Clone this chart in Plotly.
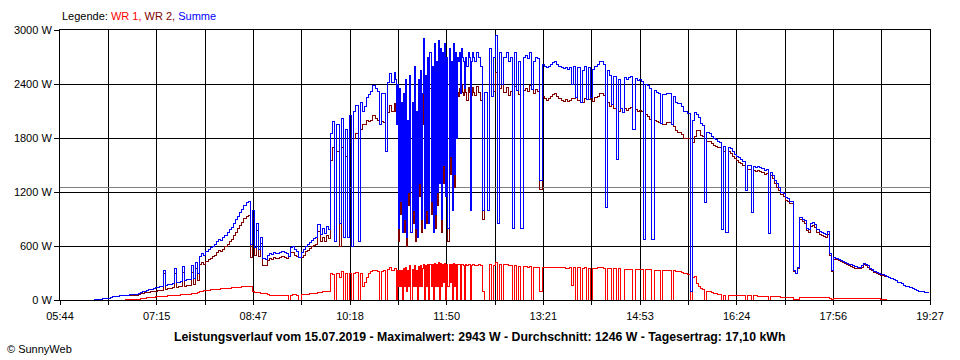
import plotly.graph_objects as go

# Sampling: 2-minute log, with the 1-minute detail log between 11:00 and 12:15
segments = [("06:16", "10:58", 2), ("11:00", "12:15", 1), ("12:16", "19:26", 2)]

wr1 = [
    # 06:16 - 10:58 (2 min)
    0,0,0,0,0,0,0,0,0,0,0,0,0,0,0,
    5,5,8,8,8,10,10,15,20,20,25,25,30,30,35,
    35,35,40,40,40,45,45,50,50,55,55,60,60,60,65,
    65,70,70,75,80,90,100,105,110,110,115,115,120,120,120,
    125,125,130,130,130,135,135,140,140,140,145,145,150,150,150,
    90,85,80,80,75,75,70,60,55,55,55,55,55,55,55,
    55,55,0,55,60,60,55,0,60,60,65,65,70,70,75,
    70,80,80,90,90,100,100,300,280,0,300,250,320,0,300,
    0,300,0,300,310,0,300,150,200,250,300,320,330,330,320,
    0,320,330,0,340,360,330,
    # 11:00 - 12:15 (1 min)
    350,350,0,330,150,330,150,330,0,350,150,360,100,330,150,
    380,0,340,150,380,150,330,0,370,150,380,150,350,400,0,
    380,150,400,0,400,150,390,0,410,150,400,150,420,0,410,
    150,400,200,410,0,400,150,400,200,390,0,410,150,400,0,
    390,390,400,0,400,390,380,0,390,380,390,390,0,380,390,
    390,
    # 12:16 - 19:26 (2 min)
    380,380,390,380,100,0,0,400,0,380,420,0,400,0,390,
    390,380,380,0,380,0,370,0,370,370,360,370,0,360,360,
    360,100,360,360,360,360,360,360,360,360,360,360,360,355,355,
    360,160,360,0,360,0,350,360,0,350,0,350,350,360,360,
    360,350,0,350,350,0,350,0,350,0,0,340,340,340,340,
    0,340,340,340,340,0,340,340,340,0,330,330,330,0,330,
    330,330,330,0,330,320,320,320,310,300,290,280,0,250,260,
    180,150,130,120,0,100,90,80,75,70,65,60,0,55,0,
    50,50,50,50,50,50,45,45,0,45,45,0,45,45,40,
    40,40,40,40,0,40,35,35,35,35,30,30,30,30,30,
    30,10,10,10,30,30,30,30,30,30,30,30,30,30,30,
    30,30,30,20,10,15,15,15,15,15,15,15,15,15,15,
    15,15,15,15,15,15,15,15,15,15,15,15,10,10,10,
    0,0,0,0,0,0,0,0,0,0,0,0,0,0,0,
    0,0,0,0,0,0,
]

wr2 = [
    # 06:16 - 10:58 (2 min)
    8,8,10,10,12,15,20,22,25,38,40,42,45,48,50,
    50,50,52,52,55,55,58,70,75,80,85,88,90,95,100,
    105,110,110,290,120,125,130,135,300,140,145,150,310,155,160,
    165,310,170,345,220,390,420,395,430,450,465,485,500,530,550,
    535,565,590,620,650,675,715,750,790,830,865,905,930,940,470,
    910,495,770,480,625,385,380,440,465,455,475,465,460,475,485,
    475,465,480,525,530,500,485,470,470,500,535,555,570,590,605,
    620,760,650,700,650,720,680,1550,1700,650,1650,600,1700,700,1600,
    700,1750,600,1800,1850,650,1900,1950,1950,2000,1980,2000,2050,2020,2000,
    1950,1980,1970,1650,2080,2160,2090,
    # 11:00 - 12:15 (1 min)
    2180,2100,1950,2070,650,2020,950,1870,750,1950,750,2090,600,1670,1050,
    2120,750,1860,850,2220,650,1770,700,2080,1150,2170,750,1950,2511,800,
    2120,850,2300,850,2350,950,2210,750,2440,800,2250,1050,2460,1300,2390,
    750,2350,1300,2440,1150,2300,650,2400,1400,2260,1000,2440,1250,2350,1800,
    2310,2260,2350,2300,2400,2310,2270,2350,2310,2220,2360,2310,1000,2270,2360,
    2310,
    # 12:16 - 19:26 (2 min)
    2270,2370,2310,2220,900,2310,1000,2400,2260,2320,2523,850,2350,2400,2310,
    2360,2270,2320,800,2370,2330,2280,800,2330,2350,2320,2380,2340,2290,2340,
    2320,1233,2260,2240,2220,2240,2260,2280,2290,2260,2240,2220,2210,2225,2205,
    2220,2240,2240,2250,2220,2200,2200,2240,2230,2230,2250,2210,2250,2260,2290,
    2290,2270,1030,2200,2150,2170,2130,1560,2100,2130,2080,2130,2110,2130,2140,
    1890,2120,2100,2110,2090,670,2060,2040,2010,670,2000,1980,1970,1960,1950,
    1950,1970,1970,1950,1930,1880,1860,1860,1840,1800,1800,1790,100,1750,1820,
    1880,1880,1830,1820,1080,1760,1760,1740,1720,1710,1700,1690,780,1650,750,
    1650,1630,1600,1570,1550,1530,1515,1495,1220,1455,1445,970,1435,1425,1440,
    1430,1420,1400,1410,740,1380,1345,1295,1255,1215,1170,1150,1110,1100,1070,
    1070,320,290,350,890,870,850,770,750,820,830,810,750,730,720,
    710,700,730,500,320,455,445,435,425,415,405,395,385,375,365,
    355,350,345,365,395,385,365,335,325,305,295,285,275,270,260,
    260,250,240,225,215,200,190,180,165,155,145,135,125,115,105,
    100,95,90,85,80,78,
]

# Summe = WR 1 + WR 2
summe = [a + b for a, b in zip(wr1, wr2)]

x_labels = ["05:44", "07:15", "08:47", "10:18", "11:50", "13:21", "14:53", "16:24", "17:56", "19:27"]
y_ticks = [0, 600, 1200, 1800, 2400, 3000]
y_labels = ["0 W", "600 W", "1200 W", "1800 W", "2400 W", "3000 W"]
average_w = 1246
title_text = "Leistungsverlauf vom 15.07.2019 - Maximalwert: 2943 W - Durchschnitt: 1246 W - Tagesertrag: 17,10 kWh"


def to_min(s):
    h, m = s.split(":")
    return int(h) * 60 + int(m)


times = []
for a, b, st in segments:
    times.extend(range(to_min(a), to_min(b) + 1, st))
times = times[:len(wr1)]

x_min = to_min(x_labels[0])
x_max = to_min(x_labels[-1])
n_ticks = 2 * (len(x_labels) - 1)
tickvals = [x_min + k * (x_max - x_min) / n_ticks for k in range(n_ticks + 1)]
ticktext = [x_labels[k // 2] if k % 2 == 0 else "" for k in range(n_ticks + 1)]

FONT = "Liberation Sans, Arial, sans-serif"

fig = go.Figure()
fig.add_trace(go.Scatter(x=[x_min, x_max], y=[average_w, average_w], mode="lines",
                         line=dict(color="#808080", width=1), hoverinfo="skip", showlegend=False))
fig.add_trace(go.Scatter(x=times, y=wr1, mode="lines", name="WR 1", line=dict(color="#FF0000", width=1, shape="hv")))
fig.add_trace(go.Scatter(x=times, y=wr2, mode="lines", name="WR 2", line=dict(color="#800000", width=1, shape="hv")))
fig.add_trace(go.Scatter(x=times, y=summe, mode="lines", name="Summe", line=dict(color="#0000FF", width=1, shape="hv")))

fig.update_layout(
    width=960, height=360,
    margin=dict(l=60, r=30, t=30, b=60),
    paper_bgcolor="white", plot_bgcolor="white",
    showlegend=False,
    font=dict(family=FONT, size=11, color="black"),
)
fig.update_xaxes(range=[x_min, x_max], tickvals=tickvals, ticktext=ticktext,
                 showgrid=True, gridcolor="black", gridwidth=1,
                 showline=True, linecolor="black", linewidth=1, mirror=True,
                 ticks="outside", ticklen=4, tickcolor="black", zeroline=False,
                 ticklabelstandoff=2,
                 tickfont=dict(family=FONT, size=11, color="black"))
fig.update_yaxes(range=[0, 3000], tickvals=y_ticks, ticktext=y_labels,
                 showgrid=True, gridcolor="black", gridwidth=1,
                 showline=True, linecolor="black", linewidth=1, mirror=True,
                 ticks="outside", ticklen=5, tickcolor="black", zeroline=False,
                 tickfont=dict(family=FONT, size=11, color="black"))

fig.add_annotation(xref="paper", yref="paper", x=0, y=1, xanchor="left", yanchor="middle", yshift=14,
                   showarrow=False,
                   text='Legende: <span style="color:#FF0000">WR 1,</span> <span style="color:#800000">WR 2,</span> <span style="color:#0000FF">Summe</span>',
                   font=dict(family=FONT, size=11, color="black"))
fig.add_annotation(xref="paper", yref="paper", x=419 / 870, y=0, xanchor="center", yanchor="middle", yshift=-37,
                   showarrow=False, text="<b>" + title_text + "</b>",
                   font=dict(family=FONT, size=12.3, color="black"))
fig.add_annotation(xref="paper", yref="paper", x=-55 / 870, y=0, xanchor="left", yanchor="middle", yshift=-49,
                   showarrow=False, text="© SunnyWeb",
                   font=dict(family=FONT, size=11, color="black"))

post = (
    "document.body.style.margin='0';document.body.style.padding='0';"
    "var st=document.createElement('style');"
    "st.innerHTML='.main-svg path{shape-rendering:crispEdges;}';"
    "document.head.appendChild(st);"
)
fig.write_html("out.html", post_script=post, config={"displayModeBar": False})
